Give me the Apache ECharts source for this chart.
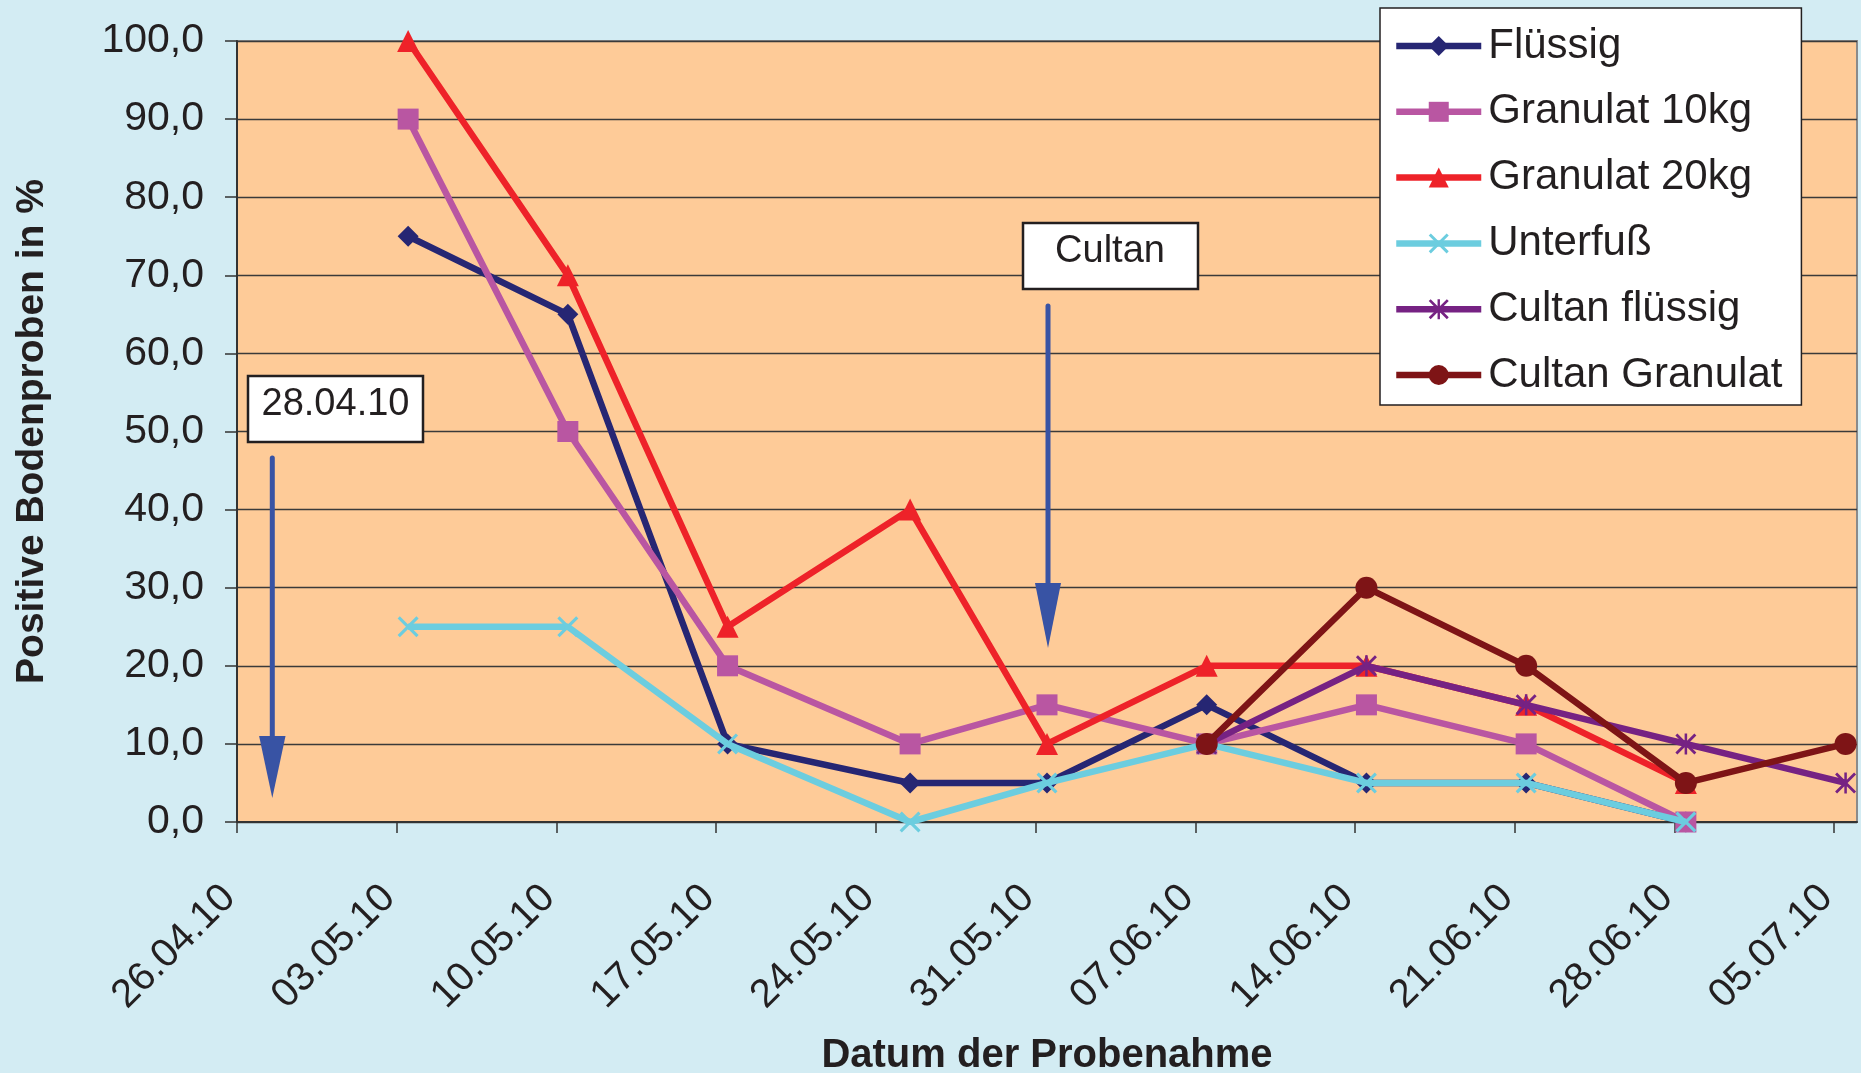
<!DOCTYPE html>
<html>
<head>
<meta charset="utf-8">
<script src="https://cdn.jsdelivr.net/npm/echarts@6/dist/echarts.min.js"></script>
<style>
html,body{margin:0;padding:0;background:#D3ECF3;}
#chart{width:1861px;height:1073px;}
</style>
</head>
<body>
<div id="chart"></div>
<script>
// ---- data ----
const startDate = '26.04.10';
const tickLabels = ['26.04.10','03.05.10','10.05.10','17.05.10','24.05.10','31.05.10','07.06.10','14.06.10','21.06.10','28.06.10','05.07.10'];
const sampleDates = ['03.05.10','10.05.10','17.05.10','25.05.10','31.05.10','07.06.10','14.06.10','21.06.10','28.06.10','05.07.10'];
const seriesNames = ['Flüssig','Granulat 10kg','Granulat 20kg','Unterfuß','Cultan flüssig','Cultan Granulat'];
const fluessig       = [75, 65, 10, 5, 5, 15, 5, 5, 0, null];
const granulat10     = [90, 50, 20, 10, 15, 10, 15, 10, 0, null];
const granulat20     = [100, 70, 25, 40, 10, 20, 20, 15, 5, null];
const unterfuss      = [25, 25, 10, 0, 5, 10, 5, 5, 0, null];
const cultanFluessig = [null, null, null, null, null, 10, 20, 15, 10, 5];
const cultanGranulat = [null, null, null, null, null, 10, 30, 20, 5, 10];
const yTicks = [0,10,20,30,40,50,60,70,80,90,100];

// ---- helpers ----
function dayOf(s){
  const p = s.split('.').map(Number);
  const q = startDate.split('.').map(Number);
  return (Date.UTC(2000+p[2],p[1]-1,p[0]) - Date.UTC(2000+q[2],q[1]-1,q[0]))/86400000;
}
function pairs(vals){
  const out = [];
  vals.forEach((v,i)=>{ if(v!==null) out.push([dayOf(sampleDates[i])+0.5, v]); });
  return out;
}
const tickDays = tickLabels.map(dayOf);
const labelByDay = {};
tickLabels.forEach((l,i)=>{ labelByDay[tickDays[i]] = l; });

const FONT = 'Liberation Sans, Arial, sans-serif';
const TXT = '#231F20';
const colors = ['#262673','#B956A2','#EE2229','#6CCDDF','#762283','#7E1416'];
const X_PATH = 'path://M0,2.1 L2.1,0 L20,17.9 L17.9,20 Z M17.9,0 L20,2.1 L2.1,20 L0,17.9 Z';
const AST_PATH = 'path://M8.8,0 L11.2,0 L11.2,20 L8.8,20 Z M0,1.9 L1.9,0 L20,18.1 L18.1,20 Z M18.1,0 L20,1.9 L1.9,20 L0,18.1 Z';
const symbols = ['diamond','rect','triangle',X_PATH,AST_PATH,'circle'];
const symSizes = [21,21,22,21,21,22];
const allVals = [fluessig, granulat10, granulat20, unterfuss, cultanFluessig, cultanGranulat];

const chart = echarts.init(document.getElementById('chart'));
const option = {
  backgroundColor: '#D3ECF3',
  animation: false,
  textStyle: {fontFamily: FONT, color: TXT},
  grid: {left: 237, top: 41, right: 4, bottom: 251, show: true, outerBoundsMode: 'none', containLabel: false,
         backgroundColor: '#FECB98', borderColor: '#8a8a8a', borderWidth: 2},
  legend: {
    orient: 'vertical', left: 1380, top: 8,
    backgroundColor: '#ffffff', borderColor: TXT, borderWidth: 1.5,
    padding: [17, 19, 9, 13],
    itemWidth: 85, itemHeight: 25, itemGap: 23.8,
    lineStyle: {width: 6.5},
    textStyle: {fontFamily: FONT, fontSize: 42, color: TXT, padding: [0,0,0,2]},
    data: seriesNames
  },
  xAxis: {
    type: 'value', min: 0, max: 71,
    name: 'Datum der Probenahme', nameLocation: 'middle', nameGap: 214,
    nameTextStyle: {fontFamily: FONT, fontSize: 40, fontWeight: 'bold', color: TXT},
    axisLine: {show: true, lineStyle: {color: '#333', width: 2}},
    axisTick: {show: true, length: 11, lineStyle: {color: '#333', width: 1.5}, customValues: tickDays},
    axisLabel: {
      customValues: tickDays, rotate: 45, margin: 62, fontSize: 40, color: TXT, fontFamily: FONT,
      padding: [0, 11, 22, 0],
      formatter: v => labelByDay[v] || ''
    },
    splitLine: {show: false}
  },
  yAxis: {
    type: 'value', min: 0, max: 100, interval: 10,
    name: 'Positive Bodenproben in %', nameLocation: 'middle', nameGap: 185,
    nameTextStyle: {fontFamily: FONT, fontSize: 39, fontWeight: 'bold', color: TXT},
    axisLine: {show: true, lineStyle: {color: '#333', width: 2}},
    axisTick: {show: true, length: 12, lineStyle: {color: '#333', width: 1.5}},
    axisLabel: {margin: 33, fontSize: 41, color: TXT, fontFamily: FONT,
      formatter: v => (yTicks.indexOf(v) >= 0 ? v.toFixed(1).replace('.', ',') : '')},
    splitLine: {show: true, lineStyle: {color: '#3a3a3a', width: 1.3}}
  },
  series: seriesNames.map((n, i) => ({
    name: n, type: 'line', data: pairs(allVals[i]),
    symbol: symbols[i], symbolSize: symSizes[i], showAllSymbol: true,
    lineStyle: {color: colors[i], width: 6.5},
    itemStyle: {color: colors[i], borderWidth: 0},
    emphasis: {disabled: true},
    z: 2 + i
  }))
};
chart.setOption(option);

// ---- annotations ----
const ARROW = '#3853A4';
function arrow(x, y0, yHead, yTip, half){
  return [
    {type: 'line', shape: {x1: x, y1: y0, x2: x, y2: yHead + 2}, style: {stroke: ARROW, lineWidth: 5, lineCap: 'round'}, z: 50},
    {type: 'polygon', shape: {points: [[x - half, yHead], [x + half, yHead], [x, yTip]]}, style: {fill: ARROW}, z: 50}
  ];
}
function box(x, y, w, h, text, tx, ty){
  return [
    {type: 'rect', shape: {x: x, y: y, width: w, height: h}, style: {fill: '#fff', stroke: TXT, lineWidth: 2.5}, z: 50},
    {type: 'text', x: tx, y: ty, style: {text: text, fontFamily: FONT, fontSize: 38, fill: TXT, align: 'center', verticalAlign: 'middle'}, z: 51}
  ];
}
chart.setOption({
  graphic: [].concat(
    box(248, 376, 175, 66, '28.04.10', 335.5, 405),
    arrow(272.3, 458, 736, 798, 13.2),
    box(1023, 223, 175, 66, 'Cultan', 1110, 252),
    arrow(1048, 306, 583, 648, 13)
  )
});
</script>
</body>
</html>
